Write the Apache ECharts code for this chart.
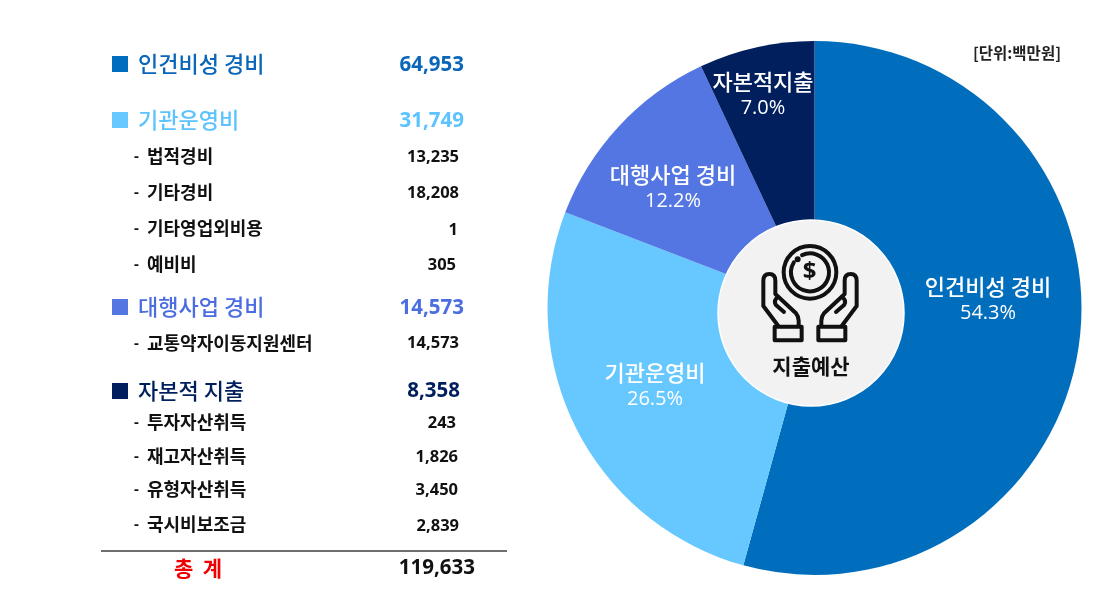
<!DOCTYPE html>
<html>
<head>
<meta charset="utf-8">
<style>
html, body { margin: 0; padding: 0; background: #fff; }
#main { width: 1100px; height: 607px; }
</style>
<script src="https://cdn.jsdelivr.net/npm/echarts@6/dist/echarts.min.js"></script>
</head>
<body>
<div id="main"></div>
<script>
// data
var pieNames = ['인건비성 경비', '기관운영비', '대행사업 경비', '자본적지출'];
var pieValues = [64953, 31749, 14573, 8358];
var pieColors = ['#006ebd', '#66c8ff', '#5476e2', '#001f5c'];

var groupNames = ['인건비성 경비', '기관운영비', '대행사업 경비', '자본적 지출'];
var groupValues = ['64,953', '31,749', '14,573', '8,358'];
var subNames = ['법적경비', '기타경비', '기타영업외비용', '예비비', '교통약자이동지원센터',
    '투자자산취득', '재고자산취득', '유형자산취득', '국시비보조금'];
var subValues = ['13,235', '18,208', '1', '305', '14,573', '243', '1,826', '3,450', '2,839'];
var totalName = '총  계';
var totalValue = '119,633';
var unitText = '[단위:백만원]';
var centerText = '지출예산';

// layout
var groupY = [64, 120, 307, 391];
var groupValueY = [65, 121, 308, 391];
var groupValueX = [464, 464, 464, 460];
var subY = [156, 192, 228, 264, 343, 422, 456, 489, 524];
var subValueY = [157, 193, 230, 265, 343, 423, 457, 490, 526];
var subValueX = [459, 459, 458, 456, 459, 456, 458, 458, 459];
var labelPos = [[988, 300], [655, 386], [673, 188], [763, 95]];

var korean = '"Noto Sans CJK KR", sans-serif';
var digits = '"Open Sans", "Noto Sans", sans-serif';

function txt(text, x, y, size, color, align, font, weight) {
    return {
        type: 'text', z: 100, x: x, y: y,
        style: {
            text: text, fill: color, font: (weight || 'bold') + ' ' + size + 'px ' + font,
            textAlign: align || 'left', textVerticalAlign: 'middle'
        }
    };
}

var els = [];
groupNames.forEach(function (name, i) {
    var c = i == 3 ? '#001f5c' : (i == 2 ? '#4a6de0' : (i == 1 ? '#5cc3ff' : '#0a66b8'));
    els.push({ type: 'rect', z: 100, shape: { x: 112, y: groupY[i] - 8, width: 16, height: 16 }, style: { fill: pieColors[i] } });
    els.push(txt(name, 138, groupY[i], 22, c, 'left', korean, '500'));
    els.push(txt(groupValues[i], groupValueX[i], groupValueY[i], 20.5, c, 'right', digits, '700'));
});
subNames.forEach(function (name, i) {
    els.push(txt('-', 134, subY[i] + 1, 15, '#111', 'left', digits));
    els.push(txt(name, 147, subY[i], 18, '#111', 'left', korean, '700'));
    els.push(txt(subValues[i], subValueX[i], subValueY[i], 16.5, '#111', 'right', digits, '700'));
});
els.push({ type: 'line', z: 100, shape: { x1: 101, y1: 551, x2: 507, y2: 551 }, style: { stroke: '#6e6e6e', lineWidth: 2 } });
els.push(txt(totalName, 198, 568, 21, '#f00000', 'center', korean, '700'));
els.push(txt(totalValue, 475, 568, 20.5, '#111', 'right', digits, '700'));
els.push(txt(unitText, 1061, 53, 15.5, '#222', 'right', korean, '700'));

// centre badge
els.push({
    type: 'circle', z: 90, shape: { cx: 811, cy: 313, r: 93 },
    style: { fill: '#f2f2f2', stroke: '#fff', lineWidth: 1.5 }
});
var hand = 'M205 288 L160 228 L160 152 Q160 132 178 132 Q196 132 196 152 L196 192 L258 250 Q266 260 266 272 L266 290 '
    + 'M205 200 Q190 210 197 224 L222 246 '
    + 'M194 290 H275 V331 H194 Z';
echarts.graphic.registerShape('handIcon', echarts.graphic.extendPath(hand, {}));
function iconStroke(extra) {
    return Object.assign({ fill: null, stroke: '#111', lineWidth: 12, lineJoin: 'round', lineCap: 'round' }, extra);
}
els.push({
    type: 'group', z: 100, x: 710, y: 230, scaleX: 1 / 3, scaleY: 1 / 3,
    children: [
        { type: 'circle', z: 100, shape: { cx: 300, cy: 127, r: 79 }, style: iconStroke() },
        { type: 'arc', z: 100, shape: { cx: 300, cy: 127, r: 57, startAngle: -2.0, endAngle: 3.7 }, style: iconStroke() },
        { type: 'circle', z: 100, shape: { cx: 263, cy: 88, r: 3 }, style: iconStroke() },
        { type: 'handIcon', z: 100, style: iconStroke() },
        { type: 'handIcon', z: 100, x: 600, scaleX: -1, style: iconStroke() }
    ]
});
els.push(txt('$', 809.5, 272, 24, '#111', 'center', digits, '700'));
els.push(txt(centerText, 811, 366, 21, '#111', 'center', korean, '700'));

var chart = echarts.init(document.getElementById('main'));
chart.setOption({
    animation: false,
    backgroundColor: '#fff',
    graphic: { elements: els },
    series: [{
        type: 'pie',
        center: [814.5, 308],
        radius: [0, 267],
        startAngle: 90,
        clockwise: true,
        silent: true,
        percentPrecision: 1,
        data: pieNames.map(function (n, i) {
            return { name: n, value: pieValues[i], itemStyle: { color: pieColors[i] } };
        }),
        label: {
            show: true,
            position: 'inside',
            formatter: function (p) {
                return '{n|' + p.name + '}\n{p|' + p.percent.toFixed(1) + '%}';
            },
            rich: {
                n: { fontFamily: korean, fontSize: 22, fontWeight: 500, color: '#fff', lineHeight: 26, align: 'center' },
                p: { fontFamily: digits, fontSize: 20, color: '#fff', lineHeight: 26, align: 'center' }
            }
        },
        labelLine: { show: false },
        labelLayout: function (p) {
            return { x: labelPos[p.dataIndex][0], y: labelPos[p.dataIndex][1], align: 'center', verticalAlign: 'middle' };
        }
    }]
});
</script>
</body>
</html>
